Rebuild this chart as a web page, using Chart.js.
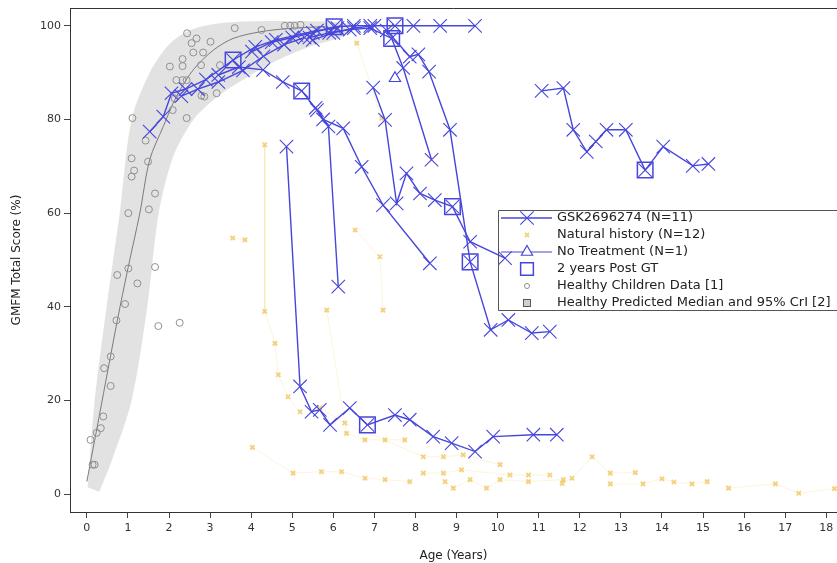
<!DOCTYPE html>
<html>
<head>
<meta charset="utf-8">
<style>
  html, body { margin: 0; padding: 0; background: #ffffff; }
  #wrap { width: 837px; height: 563px; }
</style>
<script src="https://cdn.jsdelivr.net/npm/chart.js"></script>
</head>
<body>
<div id="wrap"><canvas id="gmfm" width="837" height="563"></canvas></div>
<script>
// ---- data (age in years, GMFM total score in %) ----
const xTickStep = 1;
const yTickStep = 20;

// GSK2696274 treated patients, one row per patient
const gskAges = [
  [1.53, 1.86, 2.06, 2.4, 2.9, 3.56, 4.1, 4.6, 5.1, 5.6, 6.1],
  [3.2, 3.7, 4.29, 4.77, 5.23, 5.6, 5.75, 6.24, 6.69, 7.21, 8.35],
  [5.57, 5.88, 6.12],
  [6.97, 7.26, 7.54, 7.78, 8.11, 8.47, 8.9, 9.33, 10.18],
  [4.86, 5.19, 5.47, 5.67, 5.92, 6.4, 6.83, 7.5, 7.86, 8.43, 8.88, 9.45, 9.89, 10.87, 11.44],
  [11.07, 11.6, 11.84, 12.17, 12.39, 12.65, 13.12, 13.59, 14.03, 14.75, 15.13],
  [7.3, 7.86, 8.07, 8.33, 8.84, 9.33, 9.83, 10.26, 10.83, 11.27],
  [5.42, 5.9, 6.4, 6.9, 7.42, 7.7, 8.39],
  [5.5, 6.0, 6.5, 7.0, 7.5, 7.95, 8.6, 9.45],
  [4.02, 4.5, 5.0, 5.5, 6.02, 6.5, 6.9],
  [2.3, 2.7, 3.2, 3.8, 4.3, 4.8, 5.3]
];
const gskScores = [
  [77.4, 80.6, 85.6, 86.5, 88.5, 92.7, 95.5, 97, 98, 99, 99.5],
  [89.5, 91.2, 90.6, 88, 86.1, 82, 80, 78.1, 69.9, 61.7, 49.3],
  [82.5, 78.5, 44.3],
  [86.8, 79.9, 62.1, 68.5, 64.2, 62.8, 61.4, 53.9, 50.4],
  [74.2, 23, 17.6, 18, 14.8, 18.4, 14.8, 16.9, 15.9, 12.3, 10.9, 9.1, 12.3, 12.7, 12.7],
  [86.1, 86.7, 77.8, 73.1, 75.3, 77.8, 77.8, 69.2, 74.2, 70.1, 70.5],
  [99, 93.4, 93.9, 90.2, 77.8, 49.6, 35.1, 37.2, 34.4, 34.7],
  [97.5, 98.5, 99.2, 99.5, 97.3, 91, 71.4],
  [97, 98.5, 99.5, 100, 100, 100, 100, 100],
  [94.5, 96.5, 97.5, 98.5, 99.8, 100, 100],
  [85, 86.5, 88, 90.5, 93.5, 96, 97.5]
];

// natural history patients
const nhAges = [
  [4.33, 4.33, 4.58, 4.66, 4.9, 5.19],
  [3.55, 3.85],
  [5.84, 6.32, 6.77, 7.26, 7.74],
  [6.53, 7.13, 7.21],
  [5.67, 6.28, 8.19, 8.68, 9.16, 10.06],
  [4.03, 5.02, 5.71, 6.2, 6.77, 7.26, 7.86],
  [8.19, 8.68, 9.12, 10.3, 10.75, 11.27],
  [8.72, 8.92, 9.33, 9.73, 10.06, 10.75, 11.6],
  [11.57, 11.81, 12.3, 12.74, 13.35],
  [12.74, 13.54, 14.0, 14.29, 14.73, 15.1],
  [15.62, 16.76, 17.33, 18.2],
  [6.57, 7.18]
];
const nhScores = [
  [74.6, 39, 32.2, 25.5, 20.8, 17.6],
  [54.7, 54.3],
  [39.3, 13, 11.6, 11.6, 11.6],
  [56.4, 50.7, 39.3],
  [18.4, 15.2, 8, 8, 8.4, 6.3],
  [10, 4.5, 4.8, 4.8, 3.4, 3.1, 2.7],
  [4.5, 4.5, 5.2, 4.1, 4.1, 4.1],
  [2.7, 1.3, 3.1, 1.3, 3.1, 2.7, 3.1],
  [2.3, 3.4, 8, 4.5, 4.6],
  [2.2, 2.2, 3.3, 2.6, 2.2, 2.7],
  [1.3, 2.2, 0.2, 1.2],
  [96.3, 80.3]
];

// no treatment patient
const ntAges = [7.5];
const ntScores = [88.8];

// 2 years post gene therapy
const postAges = [3.56, 5.23, 6.02, 7.5, 7.42, 8.9, 9.33, 6.83, 13.59];
const postScores = [92.7, 86.1, 99.8, 100, 97.3, 61.4, 49.6, 14.8, 69.2];

// healthy children data [1]
const hcAges = [0.09, 0.14, 0.19, 0.24, 0.34, 0.40, 0.42, 0.58, 0.58, 0.72, 0.74, 0.93, 1.01, 1.01, 1.09, 1.09,
  1.11, 1.15, 1.23, 1.43, 1.49, 1.51, 1.66, 1.66, 1.74, 2.02, 2.09, 2.14, 2.18, 2.26, 2.33, 2.33, 2.33, 2.43,
  2.43, 2.44, 2.55, 2.59, 2.67, 2.78, 2.79, 2.83, 2.86, 3.01, 3.16, 3.24, 3.6, 4.25, 4.82, 4.95, 5.06, 5.2];
const hcScores = [11.6, 6.3, 6.3, 13.1, 14.1, 16.6, 26.9, 29.4, 23.1, 37.1, 46.8, 40.6, 60, 48.2, 71.7, 67.8,
  80.3, 69.1, 45, 75.5, 71, 60.8, 64.2, 48.5, 35.9, 91.3, 82, 84.5, 88.4, 36.6, 92.9, 91.4, 88.4, 80.3,
  88.4, 98.4, 96.3, 94.3, 97.3, 91.6, 85.1, 94.3, 84.9, 96.6, 85.6, 91.6, 99.5, 99.1, 100, 100, 100, 100.2];

// healthy predicted median and 95% CrI [2]
const medAges = [0.0, 0.3, 0.74, 1.0, 1.29, 1.53, 1.86, 2.18, 2.59, 3.08, 3.56, 4.21, 5.0, 5.8];
const medScores = [2.7, 16.6, 37, 48.2, 60, 71.4, 78.5, 84.9, 90.6, 94.8, 97.3, 98.7, 99.5, 99.8];
const crUpperAges = [0.02, 0.19, 0.48, 0.8, 1.09, 1.53, 2.0, 2.5, 3.2, 4.5, 6.0, 6.5];
const crUpperScores = [1.5, 20, 40, 60, 80, 90, 96, 99, 100.5, 101, 100.8, 100];
const crLowerAges = [0.3, 0.6, 1.09, 1.47, 1.75, 2.1, 2.6, 3.2, 3.8, 4.6, 5.4, 6.3];
const crLowerScores = [0.5, 7, 20, 40, 60, 72, 80, 85, 88.5, 92.5, 95.5, 98];

// ---- styling ----
const blue = '#4646dc';
const nhColor = 'rgba(236,180,50,0.6)';
const grey = '#8f8f8f';
const fontFam = '"DejaVu Sans", Verdana, sans-serif';

function pts(ages, scores) {
  return ages.map((a, i) => ({ x: a, y: scores[i] }));
}

// band polygon: upper edge left->right, then lower edge back
const bandPts = pts(crUpperAges, crUpperScores)
  .concat(pts(crLowerAges, crLowerScores).reverse());

const datasets = [];

datasets.push({
  type: 'line', label: 'band', data: bandPts, order: 10,
  fill: 'shape', backgroundColor: 'rgba(190,190,190,0.45)',
  borderWidth: 0, pointRadius: 0, tension: 0.3
});
datasets.push({
  type: 'line', label: 'median', data: pts(medAges, medScores), order: 9,
  borderColor: '#7a7a7a', borderWidth: 1, pointRadius: 0, fill: false, tension: 0.3
});
datasets.push({
  type: 'scatter', label: 'Healthy Children Data [1]', data: pts(hcAges, hcScores), order: 8,
  pointStyle: 'circle', pointRadius: 3.5, borderColor: grey, backgroundColor: 'rgba(0,0,0,0)', borderWidth: 1
});
nhAges.forEach((ages, i) => {
  datasets.push({
    type: 'line', label: 'Natural history (N=12)', data: pts(ages, nhScores[i]), order: 7,
    borderColor: 'rgba(245,210,110,0.25)', borderWidth: 1, fill: false,
    pointStyle: 'crossRot', pointRadius: 3, pointBorderWidth: 2,
    pointBorderColor: nhColor, pointBackgroundColor: 'rgba(0,0,0,0)'
  });
});
gskAges.forEach((ages, i) => {
  datasets.push({
    type: 'line', label: 'GSK2696274 (N=11)', data: pts(ages, gskScores[i]), order: 5,
    borderColor: blue, borderWidth: 1.4, fill: false,
    pointStyle: 'crossRot', pointRadius: 9.5, pointBorderWidth: 1.1,
    pointBorderColor: blue, pointBackgroundColor: 'rgba(0,0,0,0)'
  });
});
datasets.push({
  type: 'scatter', label: '2 years Post GT', data: pts(postAges, postScores), order: 4,
  pointStyle: 'rect', pointRadius: 11, borderColor: blue, borderWidth: 1.5, backgroundColor: 'rgba(0,0,0,0)'
});
datasets.push({
  type: 'scatter', label: 'No Treatment (N=1)', data: pts(ntAges, ntScores), order: 3,
  pointStyle: 'triangle', pointRadius: 6.5, borderColor: blue, borderWidth: 1.2, backgroundColor: 'rgba(0,0,0,0)'
});

// legend drawn as a box inside the plot, like the original
const boxLegend = {
  id: 'boxLegend',
  afterDraw(chart) {
    const ctx = chart.ctx;
    const dp = Chart.helpers.drawPoint;
    const bx = 498, by = 210, rowH = 17, symX = 527, txtX = 557;
    ctx.save();
    ctx.strokeStyle = '#555';
    ctx.lineWidth = 1;
    ctx.beginPath();
    ctx.moveTo(chart.chartArea.right, by + 0.5);
    ctx.lineTo(bx + 0.5, by + 0.5);
    ctx.lineTo(bx + 0.5, by + 100.5);
    ctx.lineTo(chart.chartArea.right, by + 100.5);
    ctx.stroke();

    const rows = ['GSK2696274 (N=11)', 'Natural history (N=12)', 'No Treatment (N=1)',
      '2 years Post GT', 'Healthy Children Data [1]', 'Healthy Predicted Median and 95% CrI [2]'];
    ctx.font = '13px ' + fontFam;
    ctx.textBaseline = 'middle';
    ctx.fillStyle = '#222';
    rows.forEach((t, i) => ctx.fillText(t, txtX, by + 8 + i * rowH));

    const yr = i => by + 8 + i * rowH;
    ctx.fillStyle = 'rgba(0,0,0,0)';
    // row 1
    ctx.strokeStyle = blue; ctx.lineWidth = 1.4;
    ctx.beginPath(); ctx.moveTo(501, yr(0)); ctx.lineTo(552, yr(0)); ctx.stroke();
    ctx.lineWidth = 1.1;
    dp(ctx, { pointStyle: 'crossRot', radius: 9.5, borderWidth: 1.1, rotation: 0 }, symX, yr(0));
    // row 2
    ctx.strokeStyle = nhColor; ctx.lineWidth = 2;
    dp(ctx, { pointStyle: 'crossRot', radius: 3, borderWidth: 2, rotation: 0 }, symX, yr(1));
    // row 3
    ctx.strokeStyle = blue; ctx.lineWidth = 1.2;
    ctx.beginPath(); ctx.moveTo(501, yr(2)); ctx.lineTo(552, yr(2)); ctx.stroke();
    ctx.fillStyle = '#fff';
    dp(ctx, { pointStyle: 'triangle', radius: 6.5, borderWidth: 1.2, rotation: 0 }, symX, yr(2));
    // row 4
    ctx.fillStyle = 'rgba(0,0,0,0)'; ctx.lineWidth = 1.5;
    dp(ctx, { pointStyle: 'rect', radius: 9, borderWidth: 1.5, rotation: 0 }, symX, yr(3));
    // row 5
    ctx.strokeStyle = grey; ctx.lineWidth = 1;
    dp(ctx, { pointStyle: 'circle', radius: 2.5, borderWidth: 1, rotation: 0 }, symX, yr(4));
    // row 6
    ctx.fillStyle = '#d0d0d0'; ctx.strokeStyle = '#555';
    ctx.fillRect(symX - 4, yr(5) - 4, 8, 8);
    ctx.strokeRect(symX - 3.5, yr(5) - 3.5, 7, 7);

    // top frame line
    ctx.strokeStyle = '#333'; ctx.lineWidth = 1;
    ctx.beginPath();
    ctx.moveTo(chart.chartArea.left, chart.chartArea.top + 0.5);
    ctx.lineTo(chart.chartArea.right, chart.chartArea.top + 0.5);
    ctx.stroke();
    ctx.restore();
  }
};

const axisGrid = { display: true, drawOnChartArea: false, drawTicks: true, tickLength: 6, color: '#444' };

new Chart(document.getElementById('gmfm').getContext('2d'), {
  type: 'scatter',
  data: { datasets: datasets },
  plugins: [boxLegend],
  options: {
    responsive: false,
    animation: false,
    devicePixelRatio: 1,
    layout: { autoPadding: false, padding: { left: 0, right: 0, top: 8, bottom: 0 } },
    plugins: { legend: { display: false }, tooltip: { enabled: false } },
    scales: {
      x: {
        type: 'linear', min: -0.41, max: 18.26,
        grid: axisGrid,
        border: { display: true, color: '#333', width: 1 },
        ticks: { stepSize: xTickStep, includeBounds: false, autoSkip: false, maxRotation: 0,
          color: '#333', padding: 4, font: { family: fontFam, size: 11 } },
        title: { display: true, text: 'Age (Years)', color: '#222',
          font: { family: fontFam, size: 12 }, padding: { top: 6, bottom: 0 } },
        afterFit(s) { s.height = 51; s.paddingLeft = 0; s.paddingRight = 0; }
      },
      y: {
        type: 'linear', min: -3.8, max: 103.8,
        grid: axisGrid,
        border: { display: true, color: '#333', width: 1 },
        ticks: { stepSize: yTickStep, includeBounds: false, color: '#333', padding: 3,
          font: { family: fontFam, size: 11 } },
        title: { display: true, text: 'GMFM Total Score (%)', color: '#222',
          font: { family: fontFam, size: 12 }, padding: { top: 10, bottom: 0 } },
        afterFit(s) { s.width = 70; s.paddingTop = 0; s.paddingBottom = 0; }
      }
    }
  }
});
</script>
</body>
</html>
